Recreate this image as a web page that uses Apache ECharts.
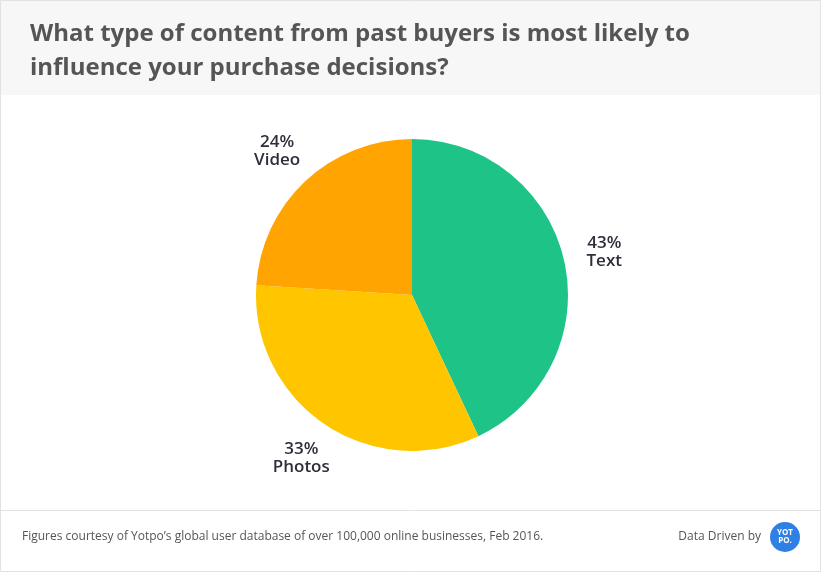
<!DOCTYPE html>
<html>
<head>
    <meta charset="utf-8">
    <title>Content from past buyers</title>
    <script src="https://cdn.jsdelivr.net/npm/echarts@6/dist/echarts.min.js"></script>
    <style>
        html, body { margin: 0; padding: 0; background: #fff; }
    </style>
</head>
<body>
    <div id="main" style="width: 821px;height:572px;"></div>
    <script type="text/javascript">
        // data
        var categories = ['Text', 'Photos', 'Video'];
        var shares = [43, 33, 24];
        var colors = ['#1ec387', '#ffc600', '#ffa400'];

        var myChart = echarts.init(document.getElementById('main'));

        var pieData = categories.map(function (name, i) {
            return { name: name, value: shares[i], itemStyle: { color: colors[i] } };
        });

        myChart.setOption({
            animation: false,
            backgroundColor: '#fff',
            title: {
                text: 'What type of content from past buyers is most likely to\ninfluence your purchase decisions?',
                left: 25,
                top: 12,
                textStyle: {
                    fontFamily: 'Open Sans',
                    fontWeight: 'bold',
                    fontSize: 24,
                    lineHeight: 34,
                    color: '#555555'
                }
            },
            graphic: [
                // header band
                { type: 'rect', z: -10, shape: { x: 0, y: 0, width: 821, height: 95 },
                  style: { fill: '#f7f7f7' } },
                // outer frame
                { type: 'rect', z: 100, shape: { x: 0.5, y: 0.5, width: 820, height: 571 },
                  style: { fill: 'none', stroke: '#e2e2e2', lineWidth: 1 } },
                // footer divider
                { type: 'line', shape: { x1: 0, y1: 510.5, x2: 821, y2: 510.5 },
                  style: { stroke: '#e2e2e2', lineWidth: 1 } },
                { type: 'text', left: 22, top: 531,
                  style: { text: 'Figures courtesy of Yotpo\u2019s global user database of over 100,000 online businesses, Feb 2016.',
                           fill: '#555', font: '12px "Open Sans"' } },
                { type: 'text', right: 60, top: 531,
                  style: { text: 'Data Driven by', fill: '#555', font: '12px "Open Sans"' } },
                { type: 'circle', shape: { cx: 785, cy: 537, r: 15 },
                  style: { fill: '#2f80e4' } },
                { type: 'text', x: 785, y: 537,
                  style: { text: 'YOT\nPO.', fill: '#fff', font: 'bold 8px "Open Sans"',
                           lineHeight: 8, align: 'center', verticalAlign: 'middle' } }
            ],
            series: [{
                type: 'pie',
                center: [412, 295],
                radius: 156,
                startAngle: 90,
                clockwise: true,
                data: pieData,
                label: {
                    show: true,
                    position: 'outside',
                    formatter: '{c}%\n{b}',
                    fontFamily: 'Open Sans',
                    fontWeight: 600,
                    fontSize: 17,
                    lineHeight: 18,
                    color: '#2e2e3c'
                },
                labelLine: { show: false, length: 41, length2: 0 },
                // centre each label on the slice's mid-angle, just past the rim
                labelLayout: function (params) {
                    var pts = params.labelLinePoints;
                    if (!pts) return {};
                    var p = pts[1];
                    return { x: p[0], y: p[1], align: 'center', verticalAlign: 'middle' };
                },
                emphasis: { disabled: true }
            }]
        });
    </script>
</body>
</html>
